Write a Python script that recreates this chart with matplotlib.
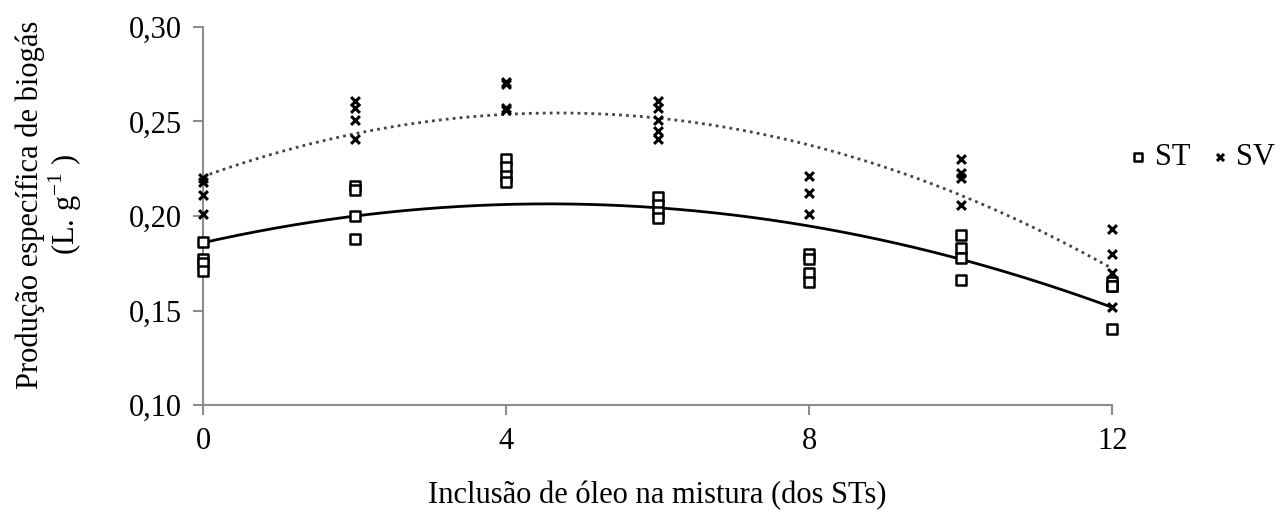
import numpy as np
import matplotlib.pyplot as plt
from matplotlib.ticker import FuncFormatter

plt.rcParams['font.family'] = ['Liberation Serif', 'DejaVu Serif']

# Oil inclusion levels (% of total solids) and observed specific biogas yields
st_x = [0, 0, 0, 0, 2, 2, 2, 2, 4, 4, 4, 4, 6, 6, 6, 6,
        8, 8, 8, 8, 10, 10, 10, 10, 12, 12, 12, 12]
st_y = [0.186, 0.177, 0.175, 0.171, 0.216, 0.214, 0.200, 0.188,
        0.230, 0.226, 0.221, 0.218, 0.210, 0.206, 0.202, 0.199,
        0.180, 0.177, 0.170, 0.165, 0.190, 0.183, 0.178, 0.166,
        0.165, 0.163, 0.163, 0.140]

sv_x = [0, 0, 0, 0, 2, 2, 2, 2, 4, 4, 4, 4, 6, 6, 6, 6, 6,
        8, 8, 8, 10, 10, 10, 10, 12, 12, 12, 12]
sv_y = [0.220, 0.218, 0.211, 0.201, 0.261, 0.257, 0.251, 0.241,
        0.271, 0.270, 0.257, 0.256, 0.261, 0.257, 0.251, 0.245, 0.241,
        0.221, 0.212, 0.201, 0.230, 0.223, 0.220, 0.206,
        0.193, 0.180, 0.170, 0.152]

x_ticks = [0, 4, 8, 12]
y_ticks = [0.10, 0.15, 0.20, 0.25, 0.30]

fig = plt.figure(figsize=(12.8, 5.17), dpi=100)
ax = fig.add_axes([0.1586, 0.2166, 0.7104, 0.7312])

# quadratic trendlines
xs = np.linspace(0, 12, 200)
st_fit = np.polyfit(st_x, st_y, 2)
sv_fit = np.polyfit(sv_x, sv_y, 2)
ax.plot(xs, np.polyval(st_fit, xs), color='black', lw=2, zorder=2)
ax.plot(xs, np.polyval(sv_fit, xs), color='#444444', lw=2,
        linestyle=(0, (1, 1.5)), zorder=2)

ax.scatter(st_x, st_y, marker='s', s=60, facecolors='white',
           edgecolors='black', linewidths=1.8, label='ST', zorder=3, clip_on=False)
ax.scatter(sv_x, sv_y, marker='x', s=40, color='black',
           linewidths=2.2, label='SV', zorder=3, clip_on=False)

ax.set_xlim(0, 12)
ax.set_ylim(0.10, 0.30)
ax.set_xticks(x_ticks)
ax.set_yticks(y_ticks)
ax.yaxis.set_major_formatter(FuncFormatter(lambda v, p: f'{v:.2f}'.replace('.', ',')))

for side in ['top', 'right']:
    ax.spines[side].set_visible(False)
for side in ['left', 'bottom']:
    ax.spines[side].set_color('#8c8c8c')
    ax.spines[side].set_linewidth(1.5)
ax.tick_params(colors='#8c8c8c', width=1.5, length=7, labelsize=22,
               labelcolor='black')
ax.tick_params(axis='x', pad=9)
ax.tick_params(axis='y', pad=8)

ax.set_xlabel('Inclusão de óleo na mistura (dos STs)', fontsize=22, labelpad=18)
ax.set_ylabel('Produção específica de biogás\n(L. g$^{\\mathregular{-1}}$ )',
              fontsize=22, linespacing=1.05)
ax.yaxis.set_label_coords(-0.131, 0.53)

ax.legend(loc='center left', bbox_to_anchor=(1.0, 0.655), frameon=False,
          ncol=2, fontsize=22, handlelength=0.5, handletextpad=0.3,
          columnspacing=0.7, markerscale=0.8, borderpad=0.2, borderaxespad=0.4)

fig.savefig('out.png', dpi=100)
